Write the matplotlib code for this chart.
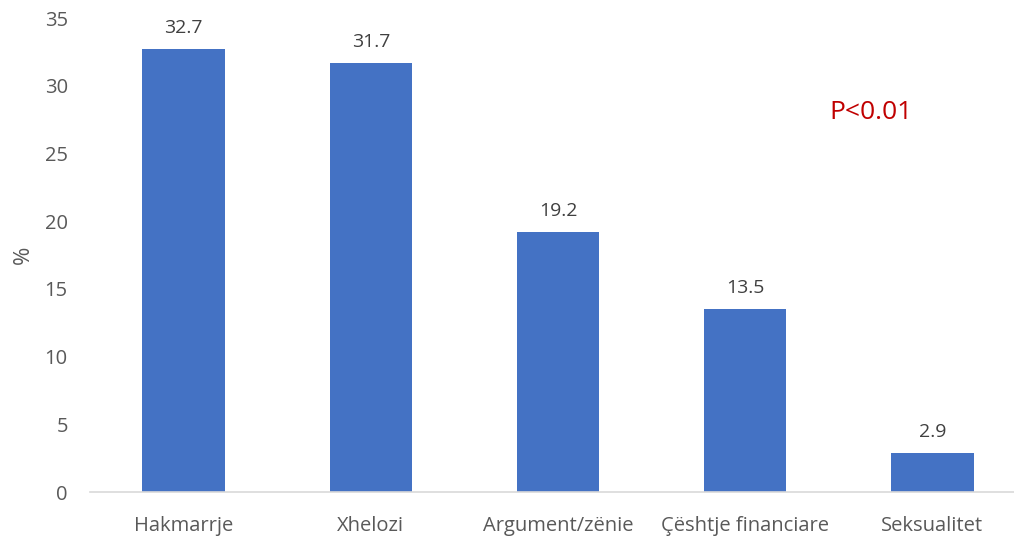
import matplotlib
matplotlib.use("Agg")
import matplotlib.pyplot as plt

categories = ["Hakmarrje", "Xhelozi", "Argument/zënie", "Çështje financiare", "Seksualitet"]
values = [32.7, 31.7, 19.2, 13.5, 2.9]
yticks = [0, 5, 10, 15, 20, 25, 30, 35]

plt.rcParams["font.family"] = ["Open Sans", "DejaVu Sans"]

fig = plt.figure(figsize=(10.14, 5.37), dpi=100)
# axes runs a little past the right edge, the baseline is cut there
ax = fig.add_axes([90 / 1014, 1 - 492 / 537, 936 / 1014, (492 - 18) / 537])

x = range(len(categories))
bars = ax.bar(x, values, width=0.44, color="#4472C4", zorder=2)
for b, v in zip(bars, values):
    ax.text(b.get_x() + b.get_width() / 2, v + 0.9, f"{v:.1f}",
            ha="center", va="bottom", fontsize=14, color="#404040")

ax.set_xlim(-0.5, len(categories) - 0.5)
ax.set_ylim(0, 35)
ax.set_yticks(yticks)
ax.set_xticks(list(x))
ax.set_xticklabels(categories)
ax.tick_params(axis="both", length=0, labelsize=14.5, labelcolor="#595959")
ax.tick_params(axis="y", pad=16)
ax.tick_params(axis="x", pad=17)
ax.set_ylabel("%", fontsize=16, color="#595959")
ax.yaxis.set_label_coords(-56 / 936, 0.5)

for s in ["top", "right", "left"]:
    ax.spines[s].set_visible(False)
ax.spines["bottom"].set_color("#D9D9D9")
ax.spines["bottom"].set_linewidth(1.2)

ax.text(3.67, 28.0, "P<0.01", fontsize=19, color="#C00000", ha="center", va="center")

fig.savefig("out.png", dpi=100)
